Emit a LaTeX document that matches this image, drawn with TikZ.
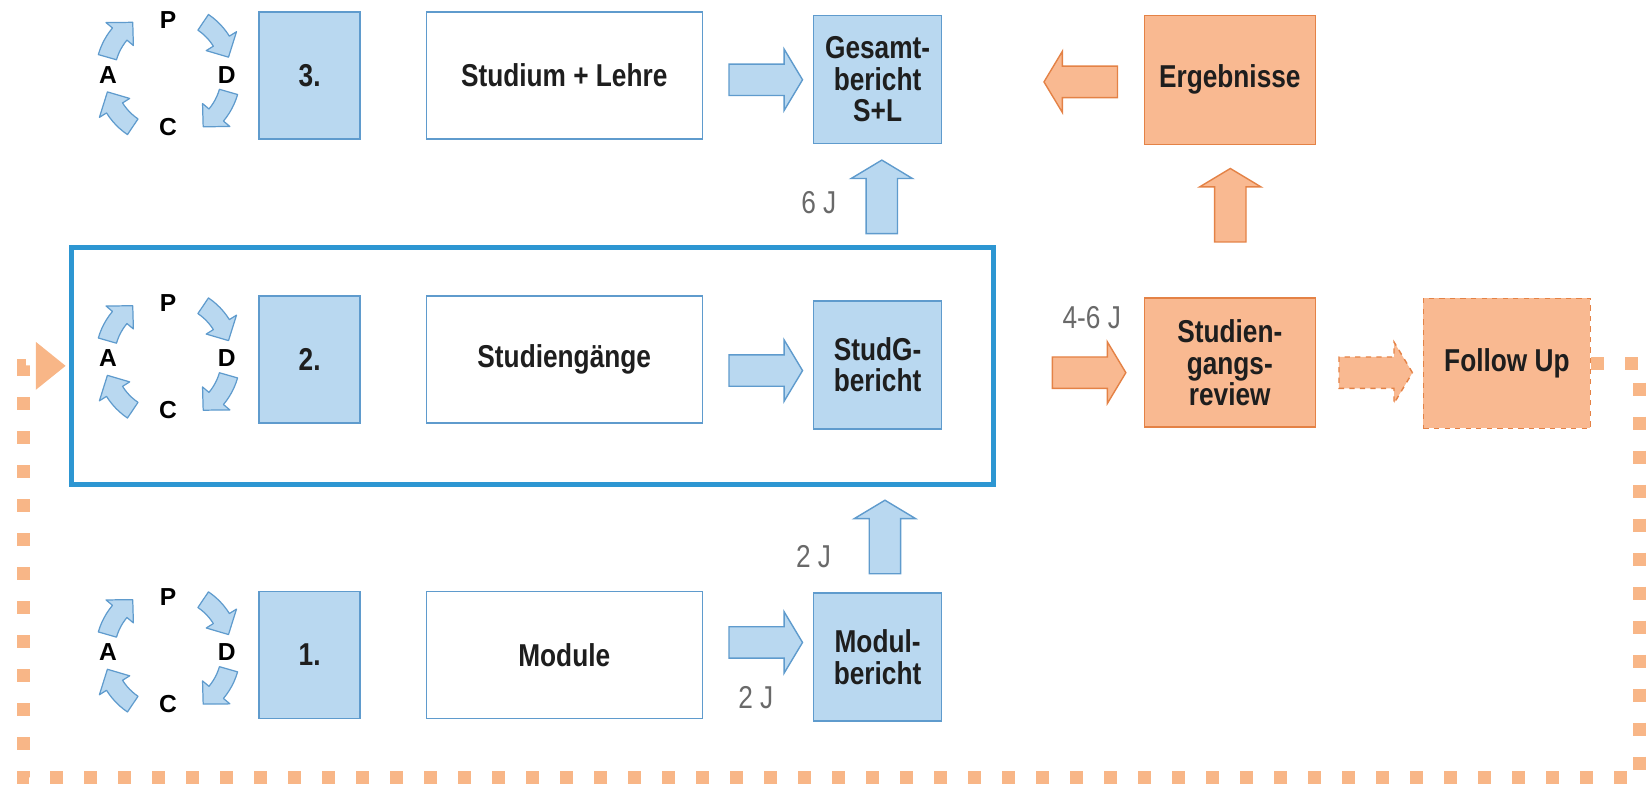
\documentclass[tikz,border=0pt]{standalone}
\usepackage{fontspec}
\setmainfont{Liberation Sans}[FakeStretch=0.83]
\newfontfamily\pdcafont{Liberation Sans}
\usepackage{tikz}
\usetikzlibrary{positioning}
\usetikzlibrary{shapes.arrows, arrows.meta}

\definecolor{boxblue}{RGB}{185,216,240}
\definecolor{lineblue}{RGB}{95,155,205}
\definecolor{frameblue}{RGB}{45,150,210}
\definecolor{boxorange}{RGB}{249,185,145}
\definecolor{lineorange}{RGB}{228,130,70}
\definecolor{dotorange}{RGB}{248,182,135}
\definecolor{labelgray}{RGB}{105,105,105}
\definecolor{textdark}{RGB}{30,30,30}

\tikzset{
    boxtext/.style={font=\fontsize{18}{18}\selectfont\bfseries, text=textdark, align=center},
    numbox/.style={boxtext, draw=lineblue, fill=boxblue, line width=0.8pt, minimum width=2.02cm, minimum height=2.54cm},
    topicbox/.style={boxtext, draw=lineblue, fill=white, line width=0.8pt, minimum width=5.52cm, minimum height=2.54cm},
    repbox/.style={boxtext, draw=lineblue, fill=boxblue, line width=0.8pt, minimum width=2.56cm, minimum height=2.56cm},
    orgbox/.style={boxtext, draw=lineorange, fill=boxorange, line width=0.8pt, minimum width=3.42cm, minimum height=2.58cm},
    barrow/.style={single arrow, draw=lineblue, fill=boxblue, line width=0.8pt, inner xsep=0pt, inner ysep=0.3cm,
        minimum height=1.47cm, single arrow head extend=0.3cm, single arrow tip angle=118},
    oarrow/.style={barrow, draw=lineorange, fill=boxorange},
    cyclearrow/.style={draw=lineblue, fill=boxblue, line width=0.7pt, line join=round},
    cycleletter/.style={font=\pdcafont\fontsize{14}{14}\selectfont\bfseries, text=black},
    jlabel/.style={font=\fontsize{18}{18}\selectfont, text=labelgray},
    stageframe/.style={draw=frameblue, line width=2.8pt, minimum width=18.44cm, minimum height=4.73cm},
    loopline/.style={draw=dotorange, line width=0.26cm, dash pattern=on 0.26cm off 0.42cm}
}

\begin{document}
\begin{tikzpicture}[x=0.021cm, y=-0.021cm]
    \useasboundingbox (0,0) rectangle (1568,751);

    % PDCA cycles
    \foreach \r/\cy in {3/71, 2/341, 1/621} {
        \begin{scope}[shift={(160,\cy)}]
            \foreach \s [evaluate=\s as \m using \s+24, evaluate=\s as \e using \s+40] in {-56, 16, 124, 196}
                \draw[cyclearrow] plot[domain=\s:\m, samples=7] (\x:69) -- (\m:77) -- (\e:60) -- (\m:43)
                    -- plot[domain=\m:\s, samples=7] (\x:51) -- cycle;
        \end{scope}
        \node[cycleletter] (p\r) at (160,\cy-52) {P};
        \node[cycleletter] (d\r) at (216,\cy) {D};
        \node[cycleletter] (c\r) at (160,\cy+50) {C};
        \node[cycleletter] (a\r) at (103,\cy) {A};
    }

    % Frame
    \node[stageframe] (stage2) at (507,348.5) {};

    % Nodes
    \node[numbox] (n3) at (295,72) {3.};
    \node[topicbox] (t3) at (537.5,72) {Studium + Lehre};
    \node[repbox] (r3) at (836,75.5) {Gesamt-\\bericht\\S+L};

    \node[numbox] (n2) at (295,342.5) {2.};
    \node[topicbox] (t2) at (537.5,342.5) {Studiengänge};
    \node[repbox] (r2) at (836,347.5) {StudG-\\bericht};

    \node[numbox] (n1) at (295,624) {1.};
    \node[topicbox] (t1) at (537.5,624) {Module};
    \node[repbox] (r1) at (836,626) {Modul-\\bericht};

    \node[orgbox] (erg) at (1171.5,76) {Ergebnisse};
    \node[orgbox] (rev) at (1171.5,345.5) {Studien-\\gangs-\\review};
    \node[orgbox, dashed, minimum width=3.34cm, minimum height=2.6cm] (fu) at (1435.5,346) {Follow Up};

    % Arrows
    \node[barrow] (a3) at (725,76) {};
    \node[barrow] (a2) at (725,353) {};
    \node[barrow] (a1) at (725,612) {};
    \node[barrow, rotate=90] (up2) at (840,192) {};
    \node[barrow, rotate=90] (up1) at (843,516) {};

    \node[oarrow, rotate=180] (oleft) at (1034,78) {};
    \node[oarrow] (oright) at (1033,355) {};
    \node[oarrow, dashed] (ofu) at (1306,355) {};
    \node[oarrow, rotate=90] (oup) at (1172,200) {};

    % Labels
    \node[jlabel] (l6) at (780,193) {6 J};
    \node[jlabel] (l2a) at (775,530) {2 J};
    \node[jlabel] (l2b) at (720,665) {2 J};
    \node[jlabel] (l46) at (1040,303) {4-6 J};

    % Loop back
    \draw[loopline, -{Triangle[width=0.92cm, length=0.6cm, fill=dotorange]}, shorten >=0.06cm]
        (fu.east) -| (1562,741) -| (22,348.5) -- (stage2.west);
\end{tikzpicture}
\end{document}
